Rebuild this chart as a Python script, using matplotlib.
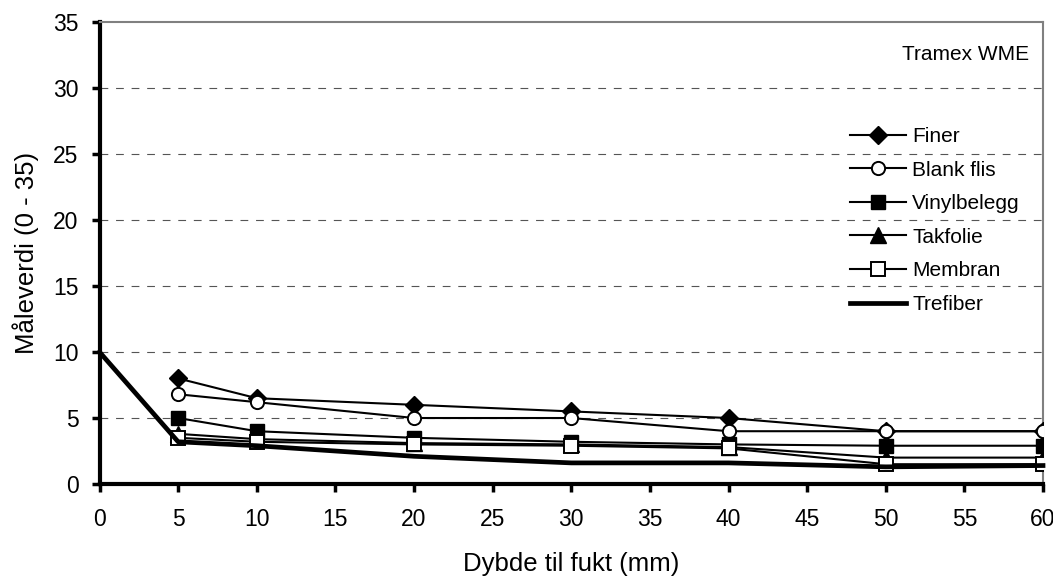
import numpy as np
import matplotlib
matplotlib.use("Agg")
import matplotlib.pyplot as plt

plt.rcParams['font.family'] = ['Liberation Sans', 'DejaVu Sans']

# data
depth = [5, 10, 20, 30, 40, 50, 60]
finer = [8.0, 6.5, 6.0, 5.5, 5.0, 4.0, 4.0]
blank_flis = [6.8, 6.2, 5.0, 5.0, 4.0, 4.0, 4.0]
vinylbelegg = [5.0, 4.0, 3.5, 3.2, 3.0, 2.9, 2.9]
takfolie = [3.8, 3.4, 3.1, 3.0, 2.8, 2.0, 2.0]
membran = [3.5, 3.2, 3.0, 2.9, 2.7, 1.5, 1.5]
depth_trefiber = [0, 5, 10, 20, 30, 40, 50, 60]
trefiber = [10.0, 3.2, 2.9, 2.1, 1.6, 1.6, 1.3, 1.4]


def main():
    fig = plt.figure(figsize=(10.53, 5.80), dpi=100)
    ax = fig.add_axes([0.0945, 0.1655, 0.8960, 0.7965])

    for yv in range(5, 35, 5):
        ax.axhline(yv, color='#555555', lw=0.8, dashes=(7, 7), zorder=0)

    lw = 1.5
    ax.plot(depth, finer, color='black', lw=lw, marker='D', ms=9,
            label='Finer', zorder=3)
    ax.plot(depth, blank_flis, color='black', lw=lw, marker='o', ms=9.5,
            mfc='white', mew=1.4, label='Blank flis', zorder=3)
    ax.plot(depth, vinylbelegg, color='black', lw=lw, marker='s', ms=10.5,
            label='Vinylbelegg', zorder=3)
    ax.plot(depth, takfolie, color='black', lw=lw, marker='^', ms=11,
            label='Takfolie', zorder=3)
    ax.plot(depth, membran, color='black', lw=lw, marker='s', ms=9.5,
            mfc='white', mew=1.4, label='Membran', zorder=3)
    ax.plot(depth_trefiber, trefiber, color='black', lw=3.4,
            label='Trefiber', zorder=4, clip_on=False)

    ax.set_xlim(0, 60)
    ax.set_ylim(0, 35)
    ax.set_xticks(np.arange(0, 61, 5))
    ax.set_yticks(np.arange(0, 36, 5))
    ax.tick_params(direction='out', length=6, width=2.5, labelsize=16.5)
    ax.tick_params(axis='x', pad=11.5)
    ax.tick_params(axis='y', pad=9)

    for s in ['left', 'bottom']:
        ax.spines[s].set_linewidth(3)
        ax.spines[s].set_color('black')
    for s in ['top', 'right']:
        ax.spines[s].set_linewidth(1.5)
        ax.spines[s].set_color('#808080')

    ax.set_xlabel('Dybde til fukt (mm)', fontsize=18.5, labelpad=15)
    ax.set_ylabel('Måleverdi (0 - 35)', fontsize=18.5, labelpad=10)

    ax.text(0.985, 0.93, 'Tramex WME', transform=ax.transAxes,
            ha='right', va='center', fontsize=15)

    fig.legend(loc='upper left', bbox_to_anchor=(0.807, 0.781),
               frameon=False, fontsize=15, borderpad=0, borderaxespad=0,
               handlelength=2.7, handletextpad=0.3, labelspacing=0.7)

    fig.savefig('out.png', dpi=100)


if __name__ == "__main__":
    main()
